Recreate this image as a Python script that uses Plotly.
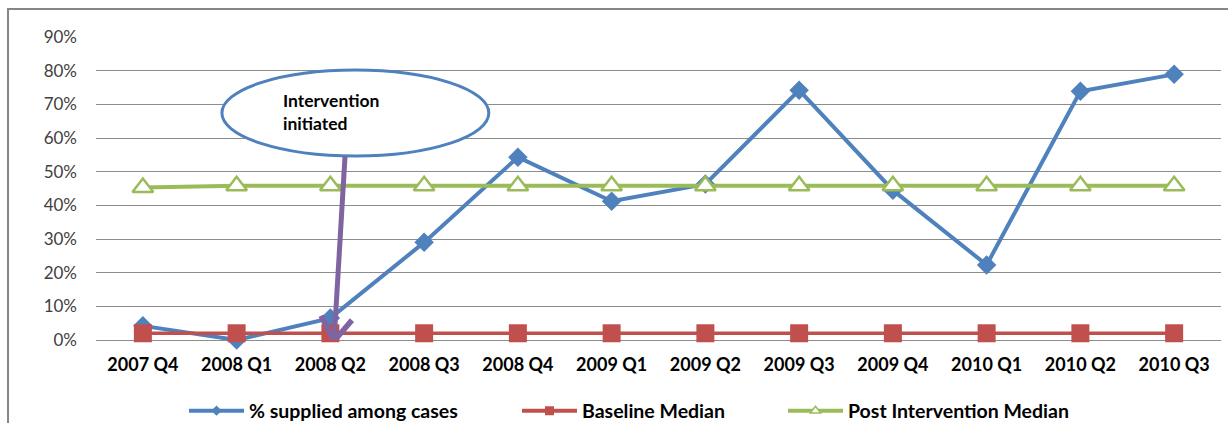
import plotly.graph_objects as go

quarters = ["2007 Q4", "2008 Q1", "2008 Q2", "2008 Q3", "2008 Q4", "2009 Q1",
            "2009 Q2", "2009 Q3", "2009 Q4", "2010 Q1", "2010 Q2", "2010 Q3"]
pct_supplied = [0.042, 0.0, 0.065, 0.29, 0.543, 0.412, 0.463, 0.742, 0.445, 0.223, 0.739, 0.789]
baseline_median = [0.02] * 12
post_median = [0.453, 0.458, 0.458, 0.458, 0.458, 0.458, 0.458, 0.458, 0.458, 0.458, 0.458, 0.458]
y_ticks = [0, 0.1, 0.2, 0.3, 0.4, 0.5, 0.6, 0.7, 0.8, 0.9]
series_names = ["% supplied among cases", "Baseline Median", "Post Intervention Median"]

BLUE = "#4F81BD"
RED = "#C0504D"
GREEN = "#9BBB59"
PURPLE = "#8064A2"
GRID = "#8C8C8C"
FONT = "Lato"
W, H = 1228, 423

fig = go.Figure()
fig.add_trace(go.Scatter(
    x=quarters, y=pct_supplied, name=series_names[0], mode="lines+markers",
    line=dict(color=BLUE, width=4), marker=dict(symbol="diamond", size=15, color=BLUE),
    cliponaxis=False, showlegend=False))
fig.add_trace(go.Scatter(
    x=quarters, y=baseline_median, name=series_names[1], mode="lines+markers",
    line=dict(color=RED, width=3.5), marker=dict(symbol="square", size=18, color=RED),
    cliponaxis=False, showlegend=False))
fig.add_trace(go.Scatter(
    x=quarters, y=post_median, name=series_names[2], mode="lines+markers",
    line=dict(color=GREEN, width=4),
    marker=dict(symbol="triangle-up", size=18, color="white", line=dict(color=GREEN, width=2.5)),
    cliponaxis=False, showlegend=False))

# legend keys, each in its own legend box along the bottom
fig.add_trace(go.Scatter(x=[None], y=[None], name=series_names[0], mode="lines+markers",
                         line=dict(color=BLUE, width=4), legend="legend",
                         marker=dict(symbol="diamond", size=8, color=BLUE)))
fig.add_trace(go.Scatter(x=[None], y=[None], name=series_names[1], mode="lines+markers",
                         line=dict(color=RED, width=4), legend="legend2",
                         marker=dict(symbol="square", size=9, color=RED)))
fig.add_trace(go.Scatter(x=[None], y=[None], name=series_names[2], mode="lines+markers",
                         line=dict(color=GREEN, width=4), legend="legend3",
                         marker=dict(symbol="triangle-up", size=9, color="white",
                                     line=dict(color=GREEN, width=1.5))))

shapes = [
    # outer chart frame
    dict(type="rect", xref="paper", yref="paper", x0=-0.0782, x1=1.01, y0=-0.4, y1=1.0924,
         line=dict(color="#868686", width=2), layer="below"),
    # callout ellipse
    dict(type="circle", xref="x", yref="y", x0=0.843, x1=3.69, y0=0.5465, y1=0.802,
         line=dict(color=BLUE, width=3), fillcolor="white", layer="above"),
    # arrow shaft and open head
    dict(type="line", xref="x", yref="y", x0=2.156, y0=0.545, x1=2.04, y1=0.0,
         line=dict(color=PURPLE, width=5), layer="above"),
    dict(type="line", xref="x", yref="y", x0=1.90, y0=0.072, x1=2.04, y1=-0.003,
         line=dict(color=PURPLE, width=5.5), layer="above"),
    dict(type="line", xref="x", yref="y", x0=2.04, y0=-0.003, x1=2.23, y1=0.059,
         line=dict(color=PURPLE, width=5.5), layer="above"),
]


def legend_box(left_px):
    return dict(orientation="h", x=left_px / W, xanchor="left", xref="container",
                y=1 - 411 / H, yanchor="middle", yref="container",
                font=dict(family=FONT, size=19.5, color="#000000", weight="bold"),
                itemwidth=55, bgcolor="rgba(0,0,0,0)")


fig.update_layout(
    width=W, height=H,
    margin=dict(l=96, r=7, t=37, b=83),
    paper_bgcolor="white", plot_bgcolor="white",
    font=dict(family=FONT, color="#000000"),
    shapes=shapes,
    annotations=[dict(
        x=1.47, y=0.676, xref="x", yref="y", text="<b>Intervention<br>initiated</b>",
        showarrow=False, xanchor="left", yanchor="middle", align="left",
        font=dict(family=FONT, size=17.5, color="black"))],
    legend=legend_box(184),
    legend2=legend_box(517),
    legend3=legend_box(783),
    xaxis=dict(type="category", range=[-0.5, 11.5], showgrid=False, showline=False,
               ticks="", ticklabelstandoff=12, automargin=False,
               tickfont=dict(family=FONT, size=18, color="#000000", weight="bold")),
    yaxis=dict(range=[0, 0.9], tickvals=y_ticks, tickformat=".0%", showgrid=True,
               gridcolor=GRID, gridwidth=1, zeroline=True, zerolinecolor=GRID,
               zerolinewidth=1, showline=False, ticks="", ticklabelstandoff=18,
               automargin=False,
               tickfont=dict(family=FONT, size=17, color="#404040")),
)

fig.write_html("out.html")
